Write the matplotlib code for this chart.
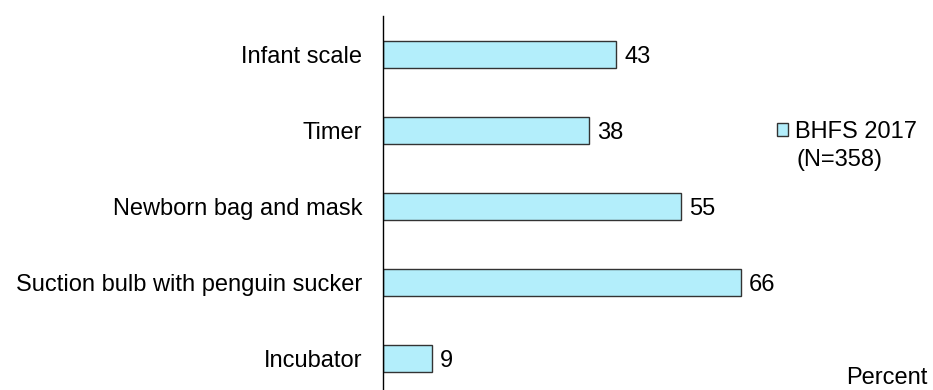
import matplotlib
matplotlib.use("Agg")
import matplotlib.pyplot as plt

# data
categories = ["Infant scale", "Timer", "Newborn bag and mask",
              "Suction bulb with penguin sucker", "Incubator"]
values = [43, 38, 55, 66, 9]
series_label = "BHFS 2017"
series_note = "(N=358)"

plt.rcParams["font.family"] = ["Liberation Sans", "DejaVu Sans"]
FS = 17

W, H = 933, 390
fig = plt.figure(figsize=(W / 100, H / 100), dpi=100)

# axes placed in pixel terms: spine at x=383, top at y=16
ax = fig.add_axes([383 / W, (H - 396.6) / H, 542 / W, 380.6 / H])

ypos = list(range(len(categories)))
bars = ax.barh(ypos, values, height=0.355, color="#B3EEFB",
               edgecolor="#333333", linewidth=1.0, label=series_label)

ax.set_ylim(len(categories) - 0.5, -0.5)
ax.set_xlim(0, 100)
ax.set_yticks(ypos)
ax.set_yticklabels(categories, fontsize=FS)
ax.tick_params(axis="y", length=0, pad=15)
ax.set_xticks([])

for s in ["top", "right", "bottom"]:
    ax.spines[s].set_visible(False)
ax.spines["left"].set_color("black")
ax.spines["left"].set_linewidth(1.0)

# value labels next to bar ends
for y, v in zip(ypos, values):
    ax.annotate(str(v), xy=(v, y), xytext=(6, 0), textcoords="offset points",
                fontsize=FS, ha="left", va="center_baseline")

leg = fig.legend(handles=[bars], labels=[series_label], loc="center left",
                 bbox_to_anchor=(777 / W, 1 - 131.5 / H), frameon=False,
                 fontsize=FS, handlelength=0.46, handleheight=0.46,
                 handletextpad=0.3, borderpad=0, borderaxespad=0)
fig.text(796 / W, 1 - 160 / H, series_note, fontsize=FS, va="center", ha="left")

fig.text(928 / W, 1 - 384 / H, "Percent", fontsize=FS, va="baseline", ha="right")

fig.savefig("out.png", dpi=100)
